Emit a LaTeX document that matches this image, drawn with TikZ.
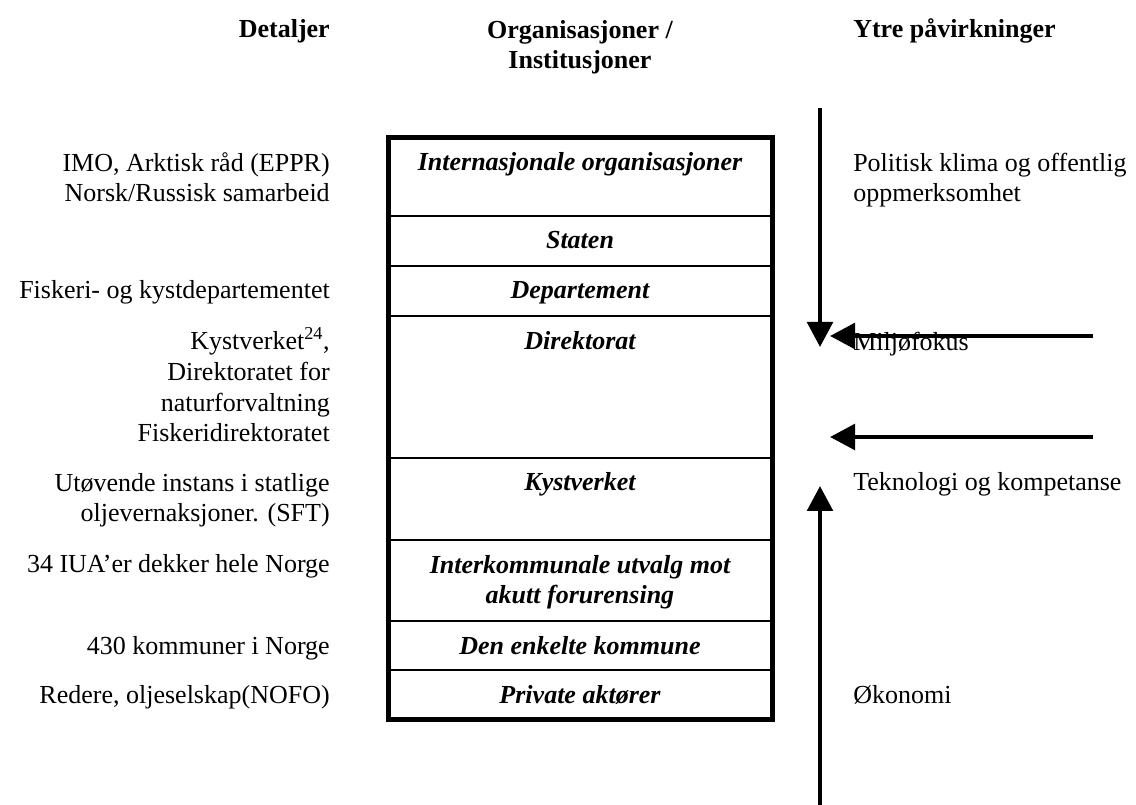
\documentclass[tikz,border=0pt]{standalone}
\usepackage{fontspec}
\setmainfont{Liberation Serif}
\usepackage{tikz}
\usetikzlibrary{positioning}
\usetikzlibrary{arrows.meta}
\newcommand{\txtsize}{\fontsize{19.5}{23}\selectfont}
\tikzstyle{head} = [anchor=base, font=\txtsize\bfseries, inner sep=0pt, align=center]
\tikzstyle{detail} = [anchor=base east, font=\txtsize, inner sep=0pt, align=right]
\tikzstyle{org} = [anchor=base, font=\txtsize\bfseries\itshape, inner sep=0pt, align=center]
\tikzstyle{influence} = [anchor=base west, font=\txtsize, inner sep=0pt, align=left]
\tikzstyle{sep} = [line width=1.5pt]
\tikzstyle{force} = [line width=3.4pt, -{Triangle[length=18.75pt,width=19pt]}]
\tikzstyle{coord} = [coordinate]

\begin{document}
\begin{tikzpicture}[x=0.75pt,y=-0.75pt]
    \useasboundingbox (0,0) rectangle (1136,805);
    % column heads (multi-line nodes sit on their last line)
    \node [head, anchor=base east] (hdet) at (330,38) {Detaljer};
    \node [head] (horg) at (580,68.7) {Organisasjoner /\\Institusjoner};
    \node [head, anchor=base west] (hinf) at (853,38) {Ytre påvirkninger};

    % the box
    \draw [line width=3.75pt] (388.5,137.5) rectangle (772,719.5);
    \coordinate (bl) at (388.5,0);
    \coordinate (br) at (772,0);
    \foreach \y in {216,266,316,458,540,621,670}
        \draw [sep] (bl |- 0,\y) -- (br |- 0,\y);

    \node [org] (intorg) at (580,171) {Internasjonale organisasjoner};
    \node [org] (staten) at (580,249) {Staten};
    \node [org] (dep) at (580,299) {Departement};
    \node [org] (dir) at (580,350) {Direktorat};
    \node [org] (kyst) at (580,491) {Kystverket};
    \node [org] (iua) at (580,603.7) {Interkommunale utvalg mot\\akutt forurensing};
    \node [org] (kommune) at (580,654) {Den enkelte kommune};
    \node [org] (privat) at (580,703) {Private aktører};

    % details
    \node [detail] (dintorg) at (330,201.7) {IMO, Arktisk råd (EPPR)\\Norsk/Russisk samarbeid};
    \node [detail] (ddep) at (330,299) {Fiskeri- og kystdepartementet};
    \node [detail] (ddir) at (330,442) {Kystverket\textsuperscript{24},\\Direktoratet for\\naturforvaltning\\Fiskeridirektoratet};
    \node [detail] (dkyst) at (330,521.7) {Utøvende instans i statlige\\oljevernaksjoner. (SFT)};
    \node [detail] (diua) at (330,573) {34 IUA’er dekker hele Norge};
    \node [detail] (dkommune) at (330,654) {430 kommuner i Norge};
    \node [detail] (dprivat) at (330,703) {Redere, oljeselskap(NOFO)};

    % influences
    \node [influence] (politikk) at (853,201.7) {Politisk klima og offentlig\\oppmerksomhet};
    \node [influence] (miljo) at (853,351) {Miljøfokus};
    \node [influence] (tek) at (853,491) {Teknologi og kompetanse};
    \node [influence] (okonomi) at (853,703) {Økonomi};

    \node [coord] (downs) at (820,108) {};
    \node [coord] (downe) at (820,347) {};
    \node [coord] (h1s) at (1093,336) {};
    \node [coord] (h1e) at (830,336) {};
    \node [coord] (h2s) at (1093,437) {};
    \node [coord] (h2e) at (830,437) {};
    \node [coord] (ups) at (820,805) {};
    \node [coord] (upe) at (820,486) {};

    \draw [force] (downs) -- (downe);
    \draw [force] (h1s) -- (h1e);
    \draw [force] (h2s) -- (h2e);
    \draw [force] (ups) -- (upe);
\end{tikzpicture}
\end{document}
